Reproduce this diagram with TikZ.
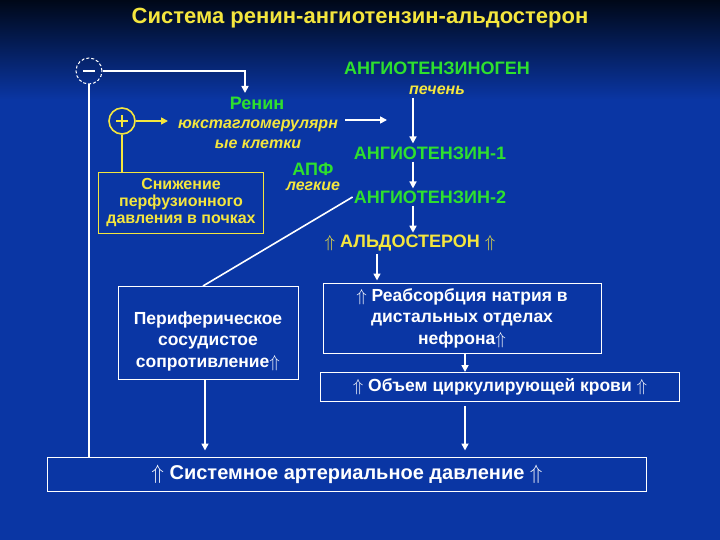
\documentclass[tikz,border=0pt]{standalone}
\usepackage{fontspec}
\setmainfont{Liberation Sans}
\usetikzlibrary{positioning,arrows.meta}
\definecolor{bgtop}{HTML}{000818}
\definecolor{bgbot}{HTML}{0A36A4}
\definecolor{grn}{HTML}{2EE02E}
\definecolor{ylw}{HTML}{F4E63E}
\tikzset{
  gtxt/.style={text=grn,font=\bfseries\fontsize{18}{20}\selectfont,inner sep=1pt},
  ytxt/.style={text=ylw,font=\bfseries\fontsize{18}{20}\selectfont,inner sep=1pt},
  yital/.style={text=ylw,font=\bfseries\itshape\fontsize{16}{20}\selectfont,align=center,inner sep=1pt},
  wbox/.style={draw=white,line width=1pt,text=white,align=center,
    font=\bfseries\fontsize{17.5}{21.5}\selectfont,inner sep=2pt},
  ybox/.style={draw=ylw,line width=1pt,text=ylw,align=center,
    font=\bfseries\fontsize{16}{17}\selectfont,inner sep=2pt},
  wline/.style={white,line width=1.6pt},
  warr/.style={wline,-{Triangle[length=7pt,width=7pt]}},
  yline/.style={ylw,line width=1.6pt},
  yarr/.style={yline,-{Triangle[length=7pt,width=7pt]}},
}
\begin{document}
\begin{tikzpicture}[x=1pt,y=-1pt]
% background
\shade[top color=bgtop,bottom color=bgbot] (0,0) rectangle (720,100);
\fill[bgbot] (0,100) rectangle (720,540);
\useasboundingbox (0,0) rectangle (720,540);

\node[text=ylw,font=\bfseries\fontsize{22}{24}\selectfont] (ttl) at (360,18) {Система ренин-ангиотензин-альдостерон};

% feedback signs
\node[circle,draw=white,densely dashed,line width=1pt,minimum size=26pt,inner sep=0pt] (neg) at (89,71) {};
\draw[white,line width=2pt] ([xshift=-6pt]neg.center) -- ([xshift=6pt]neg.center);
\node[circle,draw=ylw,line width=1.6pt,minimum size=26pt,inner sep=0pt] (pos) at (122,121) {};
\draw[ylw,line width=2.4pt] ([xshift=-6pt]pos.center) -- ([xshift=6pt]pos.center)
  ([yshift=-6pt]pos.center) -- ([yshift=6pt]pos.center);

\node[ybox,minimum width=165pt,minimum height=60pt] (perf) at (181,203) {Снижение\\перфузионного\\давления в почках};

\node[gtxt] (renin) at (257,103) {Ренин};
\node[yital] (jg) at (258,134) {юкстагломерулярн\\ые клетки};
\node[gtxt] (apf) at (313,169) {АПФ};
\node[yital] (lung) at (313,186) {легкие};

\node[gtxt] (agen) at (437,68) {АНГИОТЕНЗИНОГЕН};
\node[yital] (liver) at (437,90) {печень};
\node[gtxt] (at1) at (430,153) {АНГИОТЕНЗИН-1};
\node[gtxt] (at2) at (430,197) {АНГИОТЕНЗИН-2};
\node[ytxt] (ald) at (410,243) {$\Uparrow$ АЛЬДОСТЕРОН $\Uparrow$};

\node[wbox,minimum width=180pt,minimum height=93pt] (resist) at (208,333) {\rule{0pt}{29pt}Периферическое\\сосудистое\\сопротивление$\Uparrow$};
\node[wbox,minimum width=278pt,minimum height=70pt] (reabs) at (462,318) {$\Uparrow$ Реабсорбция натрия в\\дистальных отделах\\нефрона$\Uparrow$};
\node[wbox,minimum width=359pt,minimum height=29pt,inner sep=0pt] (vol) at (500,387) {$\Uparrow$ Объем циркулирующей крови $\Uparrow$};
\node[wbox,minimum width=599pt,minimum height=34pt,font=\bfseries\fontsize{20}{22}\selectfont] (sbp) at (347,474) {$\Uparrow$ Системное артериальное давление $\Uparrow$};

\coordinate (rin) at (245,93);
\coordinate (jgin) at (168,121);
\coordinate (jgout) at (345,120);
\coordinate (at1in) at (387,120);
\coordinate (colA) at (413,0);
\coordinate (colB) at (377,0);
\coordinate (colC) at (465,0);

\draw[warr] (neg.east) -| (rin);
\draw[wline] (neg.south) -- (neg.south |- sbp.north);
\draw[yarr] (pos.east) -- (jgin);
\draw[yline] (pos.south) -- (pos.south |- perf.north);
\draw[warr] (jgout) -- (at1in);
\draw[warr,shorten <=2pt,shorten >=2pt] (liver.south -| colA) -- (at1.north -| colA);
\draw[warr,shorten <=1pt,shorten >=1pt] (at1.south -| colA) -- (at2.north -| colA);
\draw[warr,shorten <=1pt,shorten >=1pt] (at2.south -| colA) -- (ald.north -| colA);
\draw[wline] (at2.west) -- ([xshift=-5pt]resist.north);
\draw[warr,shorten <=2pt,shorten >=2pt] (ald.south -| colB) -- (reabs.north -| colB);
\draw[warr] (reabs.south -| colC) -- (vol.north -| colC);
\draw[warr,shorten <=4pt,shorten >=6pt] (vol.south -| colC) -- (sbp.north -| colC);
\draw[warr,shorten >=6pt] ([xshift=-3pt]resist.south) -- ([xshift=-3pt]resist.south |- sbp.north);
\end{tikzpicture}
\end{document}
